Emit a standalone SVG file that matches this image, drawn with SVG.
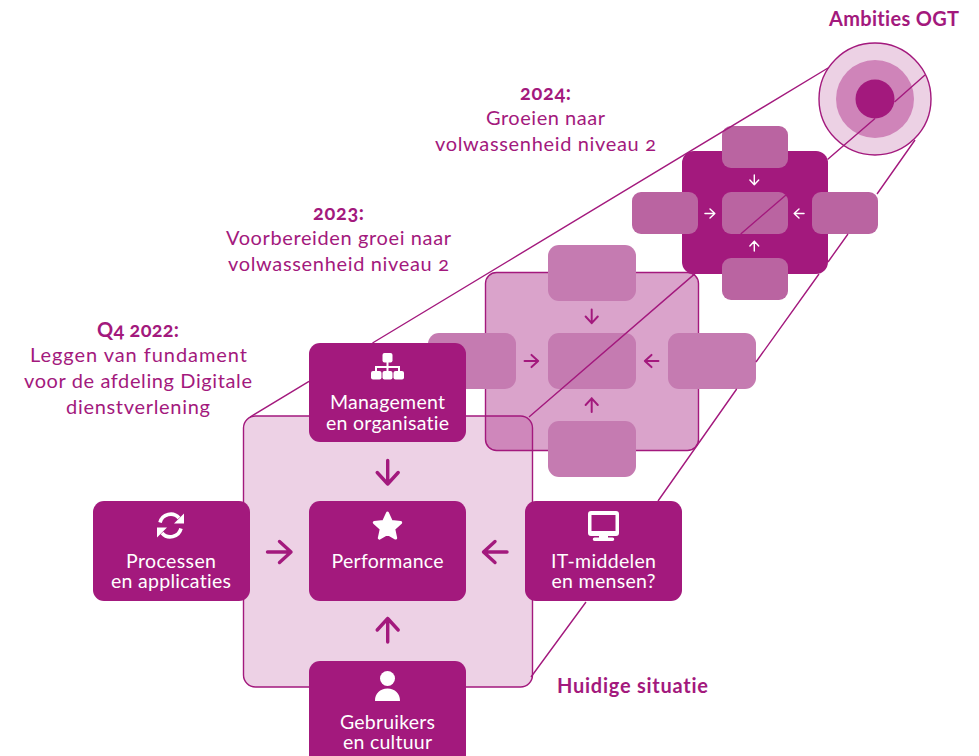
<svg xmlns="http://www.w3.org/2000/svg" width="979" height="756" viewBox="0 0 979 756">
<style>
text{font-family:"Lato","Open Sans","Liberation Sans",sans-serif;font-size:20px;text-anchor:middle;fill:#a3197d;font-variant-ligatures:none;font-variant-numeric:oldstyle-nums}
.b{font-weight:700}
.w{fill:#fff;font-size:19.500px}
.n1{fill:#a3197d}
.n2{fill:#c57bb1}
.n3{fill:#ba64a1}
.ar{fill:none;stroke:#a3197d;stroke-width:3.4;stroke-linecap:round;stroke-linejoin:round}
.aw{stroke:#fff}
.ln{fill:none;stroke:#a3197d;stroke-width:1.4}
.ic{fill:#fff}
</style>
<defs>
<path id="arrow" d="M-12 0H11.5M0-10.500L11.500 0L0 10.500"/>
</defs>
<g id="stage-2023">
<rect x="485.500" y="272.500" width="213" height="178" rx="11" fill="#a3197d" fill-opacity=".4" stroke="#a3197d" stroke-width="1.400"/>
<rect class="n2" x="548" y="245" width="88" height="56" rx="11"/>
<rect class="n2" x="428" y="333" width="88" height="56" rx="11"/>
<rect class="n2" x="548" y="333" width="88" height="56" rx="11"/>
<rect class="n2" x="668" y="333" width="88" height="56" rx="11"/>
<rect class="n2" x="548" y="421" width="88" height="56" rx="11"/>
<use href="#arrow" class="ar" transform="translate(591.700 316.500) rotate(90) scale(.58)"/>
<use href="#arrow" class="ar" transform="translate(531.500 361) scale(.58)"/>
<use href="#arrow" class="ar" transform="translate(651.500 361) rotate(180) scale(.58)"/>
<use href="#arrow" class="ar" transform="translate(591.700 405) rotate(-90) scale(.58)"/>
</g>
<g id="stage-2024">
<rect x="682" y="151" width="146" height="123" rx="12" fill="#a3197d"/>
<rect class="n3" x="722" y="126" width="66" height="42" rx="9"/>
<rect class="n3" x="632" y="192" width="66" height="42" rx="9"/>
<rect class="n3" x="722" y="192" width="66" height="42" rx="9"/>
<rect class="n3" x="812" y="192" width="66" height="42" rx="9"/>
<rect class="n3" x="722" y="258" width="66" height="42" rx="9"/>
<use href="#arrow" class="ar aw" transform="translate(754.300 180) rotate(90) scale(.42)"/>
<use href="#arrow" class="ar aw" transform="translate(710 213.500) scale(.42)"/>
<use href="#arrow" class="ar aw" transform="translate(799 213.500) rotate(180) scale(.42)"/>
<use href="#arrow" class="ar aw" transform="translate(754.300 246) rotate(-90) scale(.42)"/>
</g>
<g id="ambities">
<circle cx="875" cy="99" r="56" fill="#ecd1e4" stroke="#a3197d" stroke-width="1.400"/>
<circle cx="875" cy="99" r="39" fill="#cf84b9"/>
<circle cx="875" cy="99" r="19.500" fill="#a3197d"/>
</g>
<g id="current-frame">
<rect x="243.500" y="416" width="289" height="271" rx="12" fill="#a3197d" fill-opacity=".2" stroke="#a3197d" stroke-width="1.400"/>
</g>
<g id="connectors">
<path class="ln" d="M250 417L309 381.400M372.500 343L828 68"/>
<path class="ln" d="M529 417L695 273.600M740.700 234L786 195M827.500 159.500L875 118.500M894.500 102L925 75"/>
<path class="ln" d="M531 677L586 602M658 501L736.700 389M756 362L819 274M828 262L848 234M877 194L915 140"/>
<use href="#arrow" class="ar" transform="translate(387.700 472.500) rotate(90)"/>
<use href="#arrow" class="ar" transform="translate(279.500 552)"/>
<use href="#arrow" class="ar" transform="translate(495 552) rotate(180)"/>
<use href="#arrow" class="ar" transform="translate(387.700 630) rotate(-90)"/>
</g>
<g id="management">
<rect class="n1" x="309" y="343" width="157" height="99" rx="11"/>
<rect class="ic" x="382.500" y="353" width="10" height="9.500" rx="2"/>
<rect class="ic" x="371" y="371" width="10.500" height="8.500" rx="2"/>
<rect class="ic" x="382.500" y="371" width="10" height="8.500" rx="2"/>
<rect class="ic" x="393.500" y="371" width="10.500" height="8.500" rx="2"/>
<path d="M387.500 362V371M376 371V367H399V371" fill="none" stroke="#fff" stroke-width="2"/>
<text class="w" x="387.500" y="409" textLength="115">Management</text>
<text class="w" x="387.500" y="430" textLength="123">en organisatie</text>
</g>
<g id="performance">
<rect class="n1" x="309" y="501" width="157" height="100" rx="11"/>
<path class="ic" stroke="#fff" stroke-width="3" stroke-linejoin="round" d="M387.500 513l3.900 8.600 9.300 1-7 6.300 2 9.200-8.200-4.700-8.200 4.700 2-9.200-7-6.300 9.300-1z"/>
<text class="w" x="387.500" y="568" textLength="112">Performance</text>
</g>
<g id="processen">
<rect class="n1" x="93" y="501" width="157" height="100" rx="11"/>
<g id="sync">
<path d="M160 522.500A11 11 0 0 1 179 518" fill="none" stroke="#fff" stroke-width="3.600"/>
<path class="ic" d="M184 513.500V523.500H174Z"/>
<path d="M181 528.500A11 11 0 0 1 162 533" fill="none" stroke="#fff" stroke-width="3.600"/>
<path class="ic" d="M157 537.500V527.500H167Z"/>
</g>
<text class="w" x="171" y="568" textLength="90">Processen</text>
<text class="w" x="171" y="588" textLength="120">en applicaties</text>
</g>
<g id="it-middelen">
<rect class="n1" x="525" y="501" width="157" height="100" rx="11"/>
<path class="ic" fill-rule="evenodd" d="M591 511h25a3 3 0 0 1 3 3v19a3 3 0 0 1-3 3h-8v1.500h4.500a1.500 1.500 0 0 1 0 3.500h-18a1.500 1.500 0 0 1 0-3.500h4.500v-1.500h-8a3 3 0 0 1-3-3v-19a3 3 0 0 1 3-3zM591.500 515v16h24v-16z"/>
<text class="w" x="603.500" y="568" textLength="105">IT-middelen</text>
<text class="w" x="603.500" y="588" textLength="104">en mensen?</text>
</g>
<g id="gebruikers">
<rect class="n1" x="309" y="661" width="157" height="110" rx="11"/>
<circle class="ic" cx="387.500" cy="678.500" r="7.500"/>
<path class="ic" d="M375 700.500c0-7 5-12 12.500-12s12.500 5 12.500 12a.6.6 0 0 1-.6.6h-23.800a.6.6 0 0 1-.6-.6z"/>
<text class="w" x="387.500" y="729" textLength="95">Gebruikers</text>
<text class="w" x="387.500" y="749" textLength="89">en cultuur</text>
</g>
<g id="labels">
<text class="b" x="894" y="25.500" textLength="130">Ambities OGT</text>
<text class="b" x="545.500" y="99.500" textLength="51">2024:</text>
<text x="545.500" y="124.500" textLength="119">Groeien naar</text>
<text x="545.500" y="150.500" textLength="221">volwassenheid niveau 2</text>
<text class="b" x="338.500" y="219.500" textLength="51">2023:</text>
<text x="338.500" y="244.500" textLength="225">Voorbereiden groei naar</text>
<text x="338.500" y="270.500" textLength="221">volwassenheid niveau 2</text>
<text class="b" x="138" y="336.500" textLength="82">Q4 2022:</text>
<text x="138.500" y="361.500" textLength="217">Leggen van fundament</text>
<text x="138" y="387.500" textLength="228">voor de afdeling Digitale</text>
<text x="138" y="413.500" textLength="144">dienstverlening</text>
<text class="b" x="632.500" y="692.500" textLength="151">Huidige situatie</text>
</g>
</svg>
